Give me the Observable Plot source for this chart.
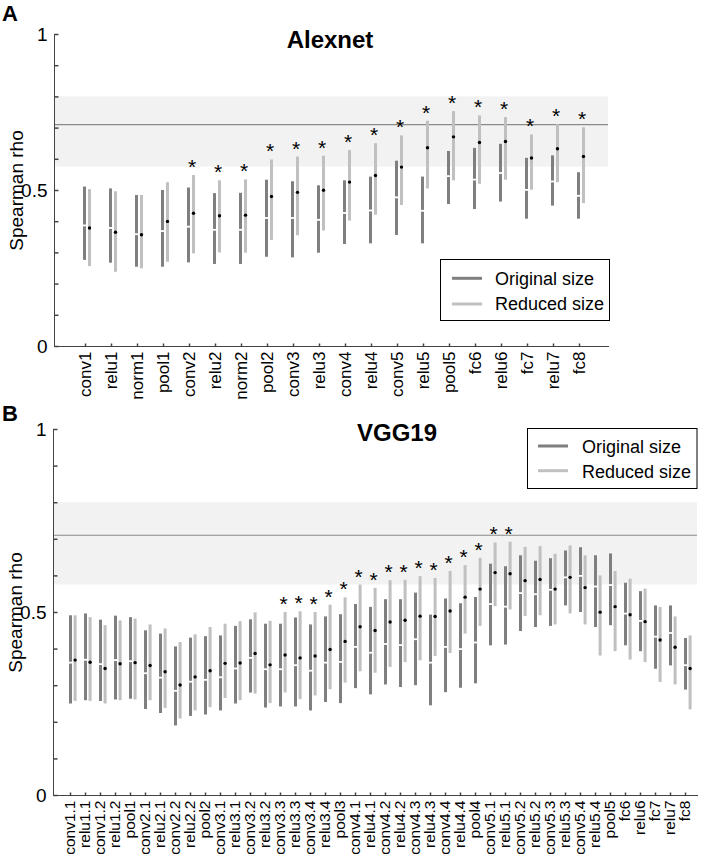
<!DOCTYPE html>
<html><head><meta charset="utf-8">
<script src="https://cdn.jsdelivr.net/npm/d3@7"></script>
<script src="https://cdn.jsdelivr.net/npm/@observablehq/plot@0.6"></script>
<style>
body{margin:0;background:#fff;}
#wrap{position:relative;width:701px;height:856px;overflow:hidden;font-family:"Liberation Sans",Arial,sans-serif;}
.panel{position:absolute;left:0;}
#overlay{position:absolute;left:0;top:0;pointer-events:none;}
</style></head><body>
<div id="wrap">
  <div class="panel" id="panelA" style="top:0px"></div>
  <div class="panel" id="panelB" style="top:400px"></div>
  <svg id="overlay" width="701" height="856" font-family="Liberation Sans, Arial, sans-serif">
    <text x="2" y="21" font-size="22" font-weight="bold">A</text>
    <text x="330" y="48" font-size="24" font-weight="bold" text-anchor="middle">Alexnet</text>
    <rect x="440.5" y="259.5" width="169" height="61" fill="#fff" stroke="#000"/>
    <line x1="452" x2="482" y1="278.3" y2="278.3" stroke="#7f7f7f" stroke-width="3"/>
    <line x1="452" x2="482" y1="304" y2="304" stroke="#c0c0c0" stroke-width="3"/>
    <text x="495" y="285" font-size="18">Original size</text>
    <text x="495" y="310" font-size="18">Reduced size</text>

    <text x="2" y="421" font-size="22" font-weight="bold">B</text>
    <text x="397" y="441" font-size="24" font-weight="bold" text-anchor="middle">VGG19</text>
    <rect x="527.5" y="428.5" width="169.5" height="60" fill="#fff" stroke="#000"/>
    <line x1="538" x2="568" y1="446" y2="446" stroke="#7f7f7f" stroke-width="3"/>
    <line x1="538" x2="568" y1="470.7" y2="470.7" stroke="#c0c0c0" stroke-width="3"/>
    <text x="582" y="453" font-size="18">Original size</text>
    <text x="582" y="478" font-size="18">Reduced size</text>
  </svg>
</div>
<script>
// ---------- shared ----------
const yMinorTicks = [0, 0.1, 0.2, 0.3, 0.4, 0.5, 0.6, 0.7, 0.8, 0.9, 1];
const yTickLabels = [0, 0.5, 1];
const noiseCeiling = 0.711;
const noiseLow = 0.575;
const noiseHigh = 0.8;

// ---------- Panel A: Alexnet ----------
const alexLayers = ["conv1","relu1","norm1","pool1","conv2","relu2","norm2","pool2","conv3","relu3","conv4","relu4","conv5","relu5","pool5","fc6","relu6","fc7","relu7","fc8"];
const alexOrigHigh = [0.511,0.505,0.484,0.500,0.508,0.490,0.491,0.533,0.528,0.515,0.531,0.543,0.594,0.543,0.625,0.635,0.648,0.603,0.611,0.557];
const alexOrigLow  = [0.276,0.267,0.254,0.254,0.268,0.263,0.263,0.286,0.284,0.299,0.327,0.329,0.356,0.329,0.455,0.439,0.463,0.408,0.450,0.408];
const alexOrigMed  = [0.388,0.380,0.360,0.370,0.384,0.374,0.374,0.412,0.412,0.406,0.428,0.436,0.478,0.435,0.546,0.535,0.556,0.502,0.529,0.483];
const alexRedHigh  = [0.503,0.496,0.484,0.525,0.548,0.531,0.534,0.598,0.607,0.610,0.628,0.650,0.675,0.722,0.753,0.739,0.734,0.678,0.711,0.701];
const alexRedLow   = [0.256,0.238,0.249,0.270,0.297,0.300,0.299,0.340,0.355,0.370,0.402,0.421,0.452,0.505,0.531,0.520,0.533,0.501,0.525,0.458];
const alexRedMed   = [0.380,0.366,0.358,0.401,0.427,0.419,0.421,0.481,0.494,0.501,0.527,0.548,0.575,0.637,0.672,0.654,0.657,0.604,0.634,0.609];
const alexSig      = [false,false,false,false,true,true,true,true,true,true,true,true,true,true,true,true,true,true,true,true];

// ---------- Panel B: VGG19 ----------
const vggLayers = ["conv1.1","relu1.1","conv1.2","relu1.2","pool1","conv2.1","relu2.1","conv2.2","relu2.2","pool2","conv3.1","relu3.1","conv3.2","relu3.2","conv3.3","relu3.3","conv3.4","relu3.4","pool3","conv4.1","relu4.1","conv4.2","relu4.2","conv4.3","relu4.3","conv4.4","relu4.4","pool4","conv5.1","relu5.1","conv5.2","relu5.2","conv5.3","relu5.3","conv5.4","relu5.4","pool5","fc6","relu6","fc7","relu7","fc8"];
const vggOrigHigh = [0.491,0.496,0.479,0.490,0.486,0.450,0.441,0.406,0.430,0.434,0.436,0.462,0.480,0.468,0.468,0.485,0.466,0.488,0.494,0.522,0.514,0.535,0.535,0.553,0.493,0.537,0.524,0.541,0.632,0.625,0.655,0.640,0.647,0.668,0.677,0.655,0.660,0.580,0.557,0.518,0.518,0.429];
const vggOrigLow  = [0.250,0.259,0.257,0.261,0.263,0.235,0.224,0.190,0.216,0.220,0.231,0.250,0.280,0.239,0.242,0.242,0.231,0.254,0.251,0.292,0.275,0.302,0.295,0.300,0.245,0.281,0.293,0.305,0.409,0.411,0.448,0.459,0.462,0.518,0.500,0.459,0.464,0.409,0.393,0.345,0.354,0.288];
const vggOrigMed  = [0.363,0.371,0.359,0.370,0.367,0.334,0.322,0.286,0.311,0.316,0.323,0.347,0.376,0.345,0.345,0.356,0.341,0.363,0.365,0.406,0.390,0.414,0.411,0.427,0.363,0.406,0.400,0.418,0.523,0.516,0.553,0.550,0.562,0.596,0.600,0.571,0.575,0.497,0.477,0.434,0.444,0.356];
const vggRedHigh  = [0.491,0.486,0.464,0.477,0.482,0.466,0.455,0.418,0.439,0.459,0.468,0.475,0.499,0.476,0.500,0.502,0.500,0.520,0.540,0.575,0.566,0.587,0.588,0.598,0.593,0.612,0.628,0.648,0.690,0.692,0.678,0.680,0.659,0.682,0.655,0.600,0.612,0.591,0.564,0.514,0.488,0.436];
const vggRedLow   = [0.257,0.257,0.250,0.259,0.261,0.259,0.238,0.209,0.231,0.240,0.265,0.259,0.277,0.251,0.280,0.262,0.272,0.289,0.307,0.338,0.334,0.350,0.363,0.368,0.380,0.388,0.441,0.462,0.516,0.507,0.489,0.491,0.466,0.496,0.466,0.381,0.393,0.370,0.363,0.309,0.302,0.234];
const vggRedMed   = [0.370,0.364,0.347,0.360,0.363,0.355,0.338,0.302,0.324,0.341,0.361,0.362,0.388,0.357,0.384,0.376,0.381,0.399,0.421,0.461,0.451,0.474,0.479,0.490,0.489,0.504,0.542,0.564,0.609,0.606,0.587,0.590,0.564,0.596,0.568,0.501,0.516,0.494,0.475,0.425,0.405,0.347];
const vggSig      = [false,false,false,false,false,false,false,false,false,false,false,false,false,false,true,true,true,true,true,true,true,true,true,true,true,true,true,true,true,true,false,false,false,false,false,false,false,false,false,false,false,false];

// ---------- drawing ----------
const darkGray = "#7f7f7f";
const lightGray = "#c0c0c0";
const axisColor = "#444";
const yTickSymbol = {draw(ctx) { ctx.moveTo(0, 0); ctx.lineTo(4, 0); }};
const xTickSymbol = {draw(ctx) { ctx.moveTo(0, 0); ctx.lineTo(0, -3); }};
const medianSymbol = {draw(ctx) { ctx.rect(-2.2, -0.9, 4.4, 1.8); }};

function makePanel(cfg) {
  const rows = cfg.layers.map((layer, i) => ({
    layer,
    oHi: cfg.oHi[i], oLo: cfg.oLo[i], oMed: cfg.oMed[i],
    rHi: cfg.rHi[i], rLo: cfg.rLo[i], rMed: cfg.rMed[i],
    sig: cfg.sig[i]
  }));
  return Plot.plot({
    width: 701,
    height: cfg.height,
    marginTop: cfg.marginTop,
    marginBottom: cfg.marginBottom,
    marginLeft: cfg.marginLeft,
    marginRight: cfg.marginRight,
    style: {fontFamily: "Liberation Sans, Arial, sans-serif", fontSize: "16px", color: "#000", background: "transparent", overflow: "visible"},
    x: {type: "point", domain: cfg.layers, range: cfg.xRange},
    y: {domain: [0, 1]},
    marks: [
      Plot.rect([{lo: noiseLow, hi: noiseHigh}], {y1: "lo", y2: "hi", fill: "#f2f2f2"}),
      Plot.ruleY([noiseCeiling], {stroke: "#8a8a8a", strokeWidth: 1.2}),
      Plot.ruleX(rows, {x: "layer", y1: "oLo", y2: "oHi", stroke: darkGray, strokeWidth: 3, dx: cfg.darkDx}),
      Plot.ruleX(rows, {x: "layer", y1: "rLo", y2: "rHi", stroke: lightGray, strokeWidth: 3, dx: cfg.lightDx}),
      Plot.dot(rows, {x: "layer", y: "oMed", symbol: medianSymbol, fill: "white", stroke: "none", dx: cfg.darkDx}),
      Plot.dot(rows, {x: "layer", y: "rMed", r: 1.7, fill: "black", stroke: "none", dx: cfg.lightDx}),
      Plot.text(rows.filter(d => d.sig), {x: "layer", y: "rHi", text: () => "*", dx: cfg.lightDx - 1.5, dy: -1.5, lineAnchor: "bottom", fontSize: 21}),
      Plot.frame({anchor: "left", stroke: axisColor}),
      Plot.frame({anchor: "bottom", stroke: axisColor}),
      Plot.dot(yMinorTicks, {y: d => d, frameAnchor: "left", symbol: yTickSymbol, stroke: axisColor, fill: "none"}),
      Plot.dot(cfg.layers, {x: d => d, frameAnchor: "bottom", symbol: xTickSymbol, stroke: axisColor, fill: "none"}),
      Plot.axisY({ticks: yTickLabels, tickSize: 0, tickPadding: 7, tickFormat: d => String(d), fontSize: 19,
        label: "Spearman rho", labelAnchor: "center", labelOffset: 45, labelArrow: "none"}),
      Plot.axisX({tickRotate: -90, tickSize: 0, tickPadding: 5, fontSize: cfg.xFont, label: null})
    ]
  });
}

document.getElementById("panelA").append(makePanel({
  layers: alexLayers, oHi: alexOrigHigh, oLo: alexOrigLow, oMed: alexOrigMed,
  rHi: alexRedHigh, rLo: alexRedLow, rMed: alexRedMed, sig: alexSig,
  height: 400, marginTop: 34, marginBottom: 54, marginLeft: 54, marginRight: 93,
  xRange: [67.7, 595.7], darkDx: -1, lightDx: 4, xFont: 17
}));

document.getElementById("panelB").append(makePanel({
  layers: vggLayers, oHi: vggOrigHigh, oLo: vggOrigLow, oMed: vggOrigMed,
  rHi: vggRedHigh, rLo: vggRedLow, rMed: vggRedMed, sig: vggSig,
  height: 456, marginTop: 29, marginBottom: 61, marginLeft: 53, marginRight: 4,
  xRange: [62, 692.3], darkDx: 0, lightDx: 4.6, xFont: 15.5
}));
</script>
</body></html>
